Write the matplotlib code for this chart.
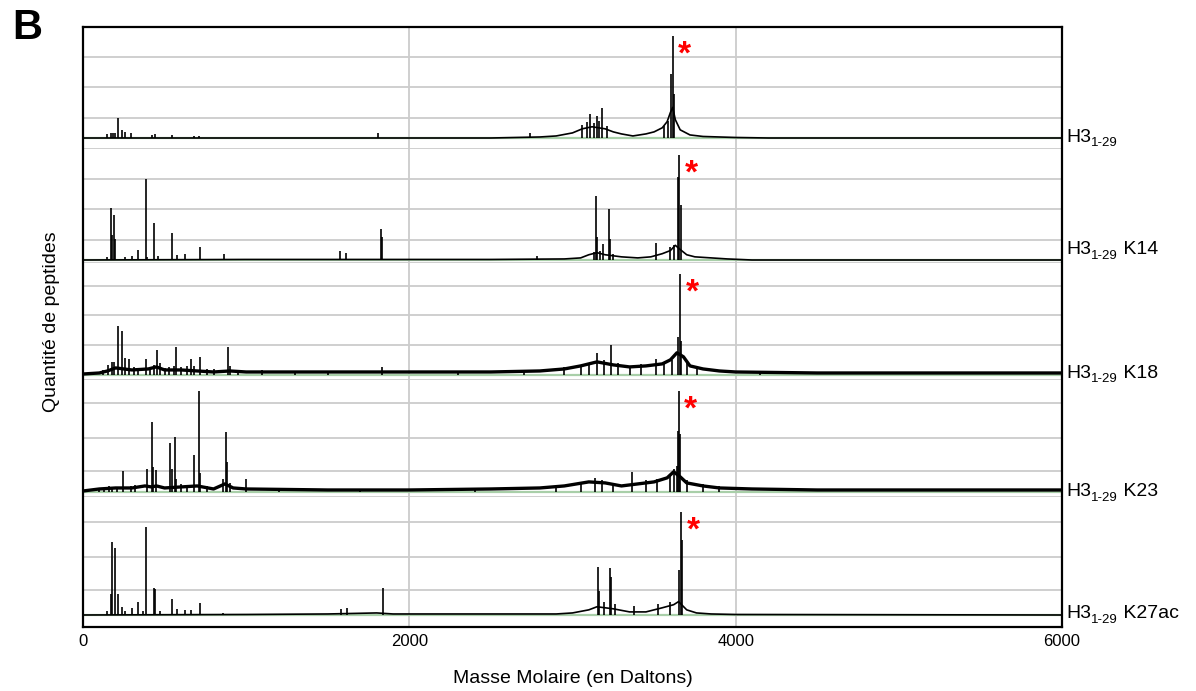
"""
Spectres de masse des peptides H3 1-29 (5 panneaux empilés)
"""
import matplotlib.pyplot as plt

plt.rcParams['font.family'] = ['Liberation Sans', 'DejaVu Sans']

# ---- données (masse en Da, intensité en % du pic principal) ----
noms = ['', 'K14', 'K18', 'K23', 'K27ac']
xticks = [0, 2000, 4000, 6000]
pic_principal = [3614, 3653, 3659, 3651, 3665]

# H3 1-29
h3_m = [150, 170, 185, 196, 216, 237, 257, 294, 420, 441, 545, 680, 710, 1806, 2740,
        3060, 3090, 3108, 3130, 3148, 3165, 3183, 3210, 3560, 3585, 3606, 3614, 3622]
h3_i = [4, 5, 5, 5, 20, 8, 6, 5, 3, 4, 3, 2, 2, 5, 5,
        13, 16, 24, 15, 22, 17, 29, 12, 12, 17, 63, 100, 43]
h3_env_m = [0, 2500, 2800, 2900, 3000, 3060, 3120, 3200, 3250, 3300, 3370, 3450, 3500,
            3550, 3580, 3600, 3614, 3630, 3660, 3720, 3800, 3900, 4000, 4200, 6000]
h3_env_i = [0, 0, 1, 2, 5, 9, 11, 9, 6, 4, 2, 4, 6,
            10, 16, 25, 30, 18, 8, 3, 1.5, 1, 0.5, 0, 0]

# K14
k14_m = [150, 174, 178, 192, 196, 257, 302, 339, 384, 392, 435, 460, 545, 578, 625, 715,
         862, 1003, 1575, 1612, 1829, 1835, 2781, 3130, 3144, 3150, 3170, 3189, 3224,
         3230, 3250, 3510, 3600, 3620, 3647, 3653, 3665]
k14_i = [3, 50, 24, 43, 20, 3, 4, 10, 77, 3, 35, 4, 26, 5, 6, 12,
         6, 1, 9, 7, 30, 22, 4, 8, 61, 22, 9, 15, 49,
         20, 6, 16, 12, 14, 79, 100, 52]
k14_env_m = [0, 1000, 2500, 2950, 3050, 3100, 3150, 3200, 3300, 3400, 3480, 3550, 3600,
             3630, 3660, 3700, 3750, 3850, 3950, 4100, 6000]
k14_env_i = [0, 0.5, 0.5, 1, 2, 5, 7, 5, 3, 2, 3, 6, 9,
             14, 10, 5, 3, 2, 1, 0, 0]

# K18
k18_m = [120, 153, 177, 190, 215, 237, 255, 284, 310, 340, 384, 410, 435, 456, 470, 500,
         530, 560, 570, 600, 640, 660, 680, 715, 760, 800, 887, 900, 950, 1100, 1300,
         1500, 1835, 2300, 2700, 2950, 3050, 3100, 3152, 3190, 3234, 3280, 3352, 3420,
         3510, 3560, 3608, 3645, 3659, 3668, 3700, 3760, 4150]
k18_i = [5, 10, 13, 13, 49, 44, 17, 16, 8, 7, 16, 8, 10, 25, 12, 7,
         8, 9, 28, 8, 9, 16, 9, 18, 6, 6, 28, 9, 5, 5, 4,
         4, 8, 4, 5, 8, 10, 12, 22, 15, 30, 12, 7, 11,
         16, 13, 15, 38, 100, 34, 13, 9, 4]
k18_env_m = [0, 100, 150, 200, 250, 300, 400, 450, 500, 600, 700, 800, 900, 1000, 1500,
             2000, 2500, 2800, 2950, 3050, 3150, 3250, 3350, 3450, 3550, 3600, 3640,
             3680, 3720, 3800, 3900, 4000, 4500, 5000, 6000]
k18_env_i = [1, 2, 4, 7, 6, 5, 6, 8, 5, 5, 4, 3, 4, 3, 3,
             3, 3, 4, 6, 9, 13, 10, 8, 9, 11, 15, 22,
             18, 9, 6, 4, 3, 2, 2, 2]

# K23
k23_m = [100, 130, 160, 180, 210, 247, 294, 320, 390, 425, 430, 447, 535, 545, 562, 570,
         600, 640, 678, 711, 716, 760, 860, 877, 882, 900, 999, 1200, 1700, 2400, 2900,
         3050, 3138, 3180, 3250, 3363, 3450, 3520, 3600, 3625, 3640, 3646, 3651, 3660,
         3700, 3800, 3900]
k23_i = [4, 4, 6, 5, 5, 21, 6, 7, 23, 69, 25, 22, 49, 23, 54, 13,
         8, 7, 37, 100, 19, 6, 13, 59, 30, 9, 13, 4, 3, 4, 6,
         10, 14, 12, 9, 20, 12, 13, 18, 23, 26, 60, 100, 57,
         12, 8, 6]
k23_env_m = [0, 100, 200, 300, 380, 420, 450, 500, 600, 700, 800, 870, 920, 1000, 1500,
             2000, 2500, 2800, 2950, 3100, 3200, 3300, 3400, 3500, 3580, 3620, 3660,
             3700, 3800, 3900, 4100, 4500, 6000]
k23_env_i = [1, 3, 4, 4, 6, 5, 6, 4, 5, 6, 3, 8, 4, 3, 2,
             2, 3, 4, 6, 10, 9, 6, 8, 10, 14, 20, 15,
             9, 6, 4, 3, 2, 2]

# K27ac
k27_m = [150, 170, 176, 194, 217, 240, 257, 300, 339, 365, 384, 435, 440, 470, 547, 578,
         625, 660, 717, 860, 1579, 1620, 1837, 3157, 3163, 3190, 3232, 3238, 3260, 3379,
         3526, 3600, 3655, 3665, 3672]
k27_i = [4, 20, 71, 65, 20, 8, 4, 7, 13, 4, 85, 26, 25, 4, 16, 6,
         5, 5, 12, 2, 6, 7, 26, 47, 23, 13, 46, 37, 11, 9,
         11, 13, 44, 100, 73]
k27_env_m = [0, 1000, 1500, 1800, 1900, 2500, 2900, 3000, 3100, 3150, 3250, 3350, 3450,
             3550, 3620, 3650, 3700, 3760, 3850, 4000, 6000]
k27_env_i = [0, 0.5, 1, 2, 1, 1, 1, 2, 5, 8, 6, 3, 3,
             7, 10, 13, 5, 2, 1, 0.5, 0]

pics_m = [h3_m, k14_m, k18_m, k23_m, k27_m]
pics_i = [h3_i, k14_i, k18_i, k23_i, k27_i]
env_m = [h3_env_m, k14_env_m, k18_env_m, k23_env_m, k27_env_m]
env_i = [h3_env_i, k14_env_i, k18_env_i, k23_env_i, k27_env_i]

# ---- géométrie (pixels de la figure) ----
W, H = 1196, 691
x0, x1 = 83, 1062
haut = [27, 149, 263, 380, 497]
bas = [149, 263, 380, 497, 627]
ligne0 = [138, 260, 375, 492, 615]
sommet = [36, 155, 274, 391, 512]
grille = [[57, 87, 118], [179, 209, 240], [286, 315, 345], [403, 438, 471], [522, 557, 590]]
lab_y = [137, 250, 373, 492, 614]
epaisseur = [1.2, 1.2, 2.4, 2.4, 1.2]
gris = '#cccccc'

fig = plt.figure(figsize=(W / 100, H / 100), dpi=100)

# cadre général avec l'axe des masses
cadre = fig.add_axes([x0 / W, 1 - bas[-1] / H, (x1 - x0) / W, (bas[-1] - haut[0]) / H])
cadre.set_xlim(0, 6000)
cadre.set_xticks(xticks)
cadre.set_xticklabels([str(t) for t in xticks], fontsize=12)
cadre.tick_params(axis='x', length=0, pad=5)
cadre.set_yticks([])
for sp in cadre.spines.values():
    sp.set_linewidth(1.6)
cadre.patch.set_alpha(0)
cadre.set_zorder(5)
cadre.set_xlabel('Masse Molaire (en Daltons)', fontsize=14, labelpad=15)

for i in range(5):
    ax = fig.add_axes([x0 / W, 1 - bas[i] / H, (x1 - x0) / W, (bas[i] - haut[i]) / H])
    ech = (ligne0[i] - sommet[i]) / 100
    lo = -(bas[i] - ligne0[i]) / ech
    ax.set_xlim(0, 6000)
    ax.set_ylim(lo, (ligne0[i] - haut[i]) / ech)
    for g in grille[i]:
        ax.axhline((ligne0[i] - g) / ech, color=gris, lw=1.3, zorder=0)
    if i < 4:
        ax.axhline(lo, color=gris, lw=1.3, zorder=0)
    for xv in (2000, 4000):
        ax.axvline(xv, color=gris, lw=1.3, zorder=0)
    ax.axhline(0, color='#a9cfa9', lw=1.6, zorder=1)
    ax.plot(env_m[i], env_i[i], color='k', lw=epaisseur[i], zorder=2)
    ax.vlines(pics_m[i], 0, pics_i[i], color='k', lw=1.2, zorder=3)
    ax.annotate('*', xy=(pic_principal[i], 100), xytext=(12, -28), textcoords='offset pixels',
                color='red', fontsize=24, fontweight='bold', ha='center', va='baseline')
    ax.axis('off')

fig.text(52 / W, 1 - 322 / H, 'Quantité de peptides', rotation=90, fontsize=14,
         ha='center', va='center')
fig.text(12 / W, 1 - 8 / H, 'B', fontsize=30, fontweight='bold', ha='left', va='top')

# étiquettes à droite : H3 + indice 1-29 + modification
fig.canvas.draw()
r = fig.canvas.get_renderer()
for i, nom in enumerate(noms):
    y = 1 - lab_y[i] / H
    t = fig.text(1066 / W, y, 'H3', fontsize=14, va='center')
    bb = t.get_window_extent(renderer=r)
    s = fig.text(bb.x1 / W, y - 6 / H, '1-29', fontsize=9.5, va='center')
    bb2 = s.get_window_extent(renderer=r)
    if nom:
        fig.text(bb2.x1 / W, y, ' ' + nom, fontsize=14, va='center')

plt.savefig('out.png', dpi=100)
